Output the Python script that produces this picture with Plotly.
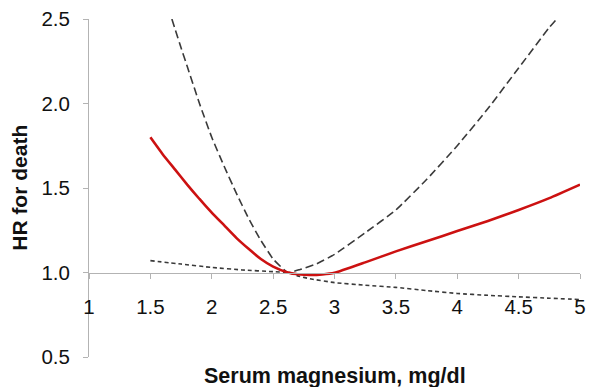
import plotly.graph_objects as go

# Data
hr_x = [1.5, 1.6, 1.7, 1.8, 1.9, 2.0, 2.1, 2.2, 2.3, 2.4, 2.5, 2.62, 2.7, 2.8, 2.9,
        3.0, 3.25, 3.5, 3.75, 4.0, 4.25, 4.5, 4.75, 5.0]
hr_y = [1.80, 1.70, 1.61, 1.52, 1.435, 1.355, 1.28, 1.205, 1.14, 1.08, 1.035, 1.0, 0.99,
        0.985, 0.988, 0.998, 1.06, 1.125, 1.185, 1.245, 1.305, 1.37, 1.44, 1.52]

upper_x = [1.675, 1.75, 1.8, 1.9, 2.0, 2.1, 2.2, 2.3, 2.4, 2.5, 2.62,
           2.72, 2.85, 3.0, 3.25, 3.5, 3.75, 4.0, 4.25, 4.5, 4.75, 4.81]
upper_y = [2.50, 2.33, 2.22, 2.00, 1.80, 1.63, 1.47, 1.32, 1.19, 1.08, 1.0,
           1.018, 1.05, 1.107, 1.235, 1.37, 1.55, 1.75, 1.97, 2.21, 2.45, 2.50]

lower_x = [1.5, 1.75, 2.0, 2.25, 2.5, 2.62, 2.7, 2.8, 3.0, 3.25, 3.5, 3.75,
           4.0, 4.25, 4.5, 4.75, 5.0]
lower_y = [1.07, 1.05, 1.03, 1.015, 1.005, 1.0, 0.98, 0.963, 0.94, 0.925, 0.912, 0.893,
           0.876, 0.865, 0.856, 0.848, 0.84]

x_ticks = [1, 1.5, 2, 2.5, 3, 3.5, 4, 4.5, 5]
x_tick_labels = ["1", "1.5", "2", "2.5", "3", "3.5", "4", "4.5", "5"]
y_ticks = [0.5, 1.0, 1.5, 2.0, 2.5]
y_tick_labels = ["0.5", "1.0", "1.5", "2.0", "2.5"]

FONT = "Liberation Sans, Arial, sans-serif"

fig = go.Figure()
fig.add_trace(go.Scatter(x=upper_x, y=upper_y, mode="lines",
                         line=dict(color="#3a3a3a", width=1.6, dash="8px,4px", shape="spline", smoothing=0.4),
                         hoverinfo="skip"))
fig.add_trace(go.Scatter(x=lower_x, y=lower_y, mode="lines",
                         line=dict(color="#3a3a3a", width=1.6, dash="4px,3px", shape="spline", smoothing=0.4),
                         hoverinfo="skip"))
fig.add_trace(go.Scatter(x=hr_x, y=hr_y, mode="lines",
                         line=dict(color="#cc1111", width=2.6, shape="spline", smoothing=0.4)))

fig.update_layout(
    width=589, height=387,
    margin=dict(l=89, r=9, t=19, b=30, autoexpand=False),
    paper_bgcolor="white", plot_bgcolor="white",
    showlegend=False,
    font=dict(family=FONT, color="#111111", size=20),
    xaxis=dict(range=[1, 5], tickvals=x_ticks, ticktext=x_tick_labels,
               showgrid=False, zeroline=False, automargin=False,
               showline=True, linecolor="#b3b3b3", linewidth=1,
               ticks="outside", ticklen=5, tickcolor="#b3b3b3",
               anchor="free", position=0.25, ticklabelstandoff=11,
               tickfont=dict(size=20.5, family=FONT)),
    yaxis=dict(range=[0.5, 2.5], tickvals=y_ticks, ticktext=y_tick_labels,
               showgrid=False, zeroline=False, automargin=False,
               showline=True, linecolor="#b3b3b3", linewidth=1,
               ticks="outside", ticklen=5, tickcolor="#b3b3b3",
               ticklabelstandoff=9,
               tickfont=dict(size=20.5, family=FONT)),
    annotations=[
        dict(text="<b>Serum magnesium, mg/dl</b>", xref="paper", yref="paper",
             x=0.5, y=-0.056, xanchor="center", yanchor="middle", showarrow=False,
             font=dict(size=21.5, family=FONT, color="#111111")),
        dict(text="<b>HR for death</b>", xref="paper", yref="paper",
             x=-0.143, y=0.5, xanchor="center", yanchor="middle", showarrow=False,
             textangle=-90, font=dict(size=21, family=FONT, color="#111111")),
    ],
)

# remove the browser's default 8px body margin so the figure fills the window
fig.write_html("out.html",
               config={"displayModeBar": False},
               post_script="document.body.style.margin='0';document.body.style.overflow='hidden';")
